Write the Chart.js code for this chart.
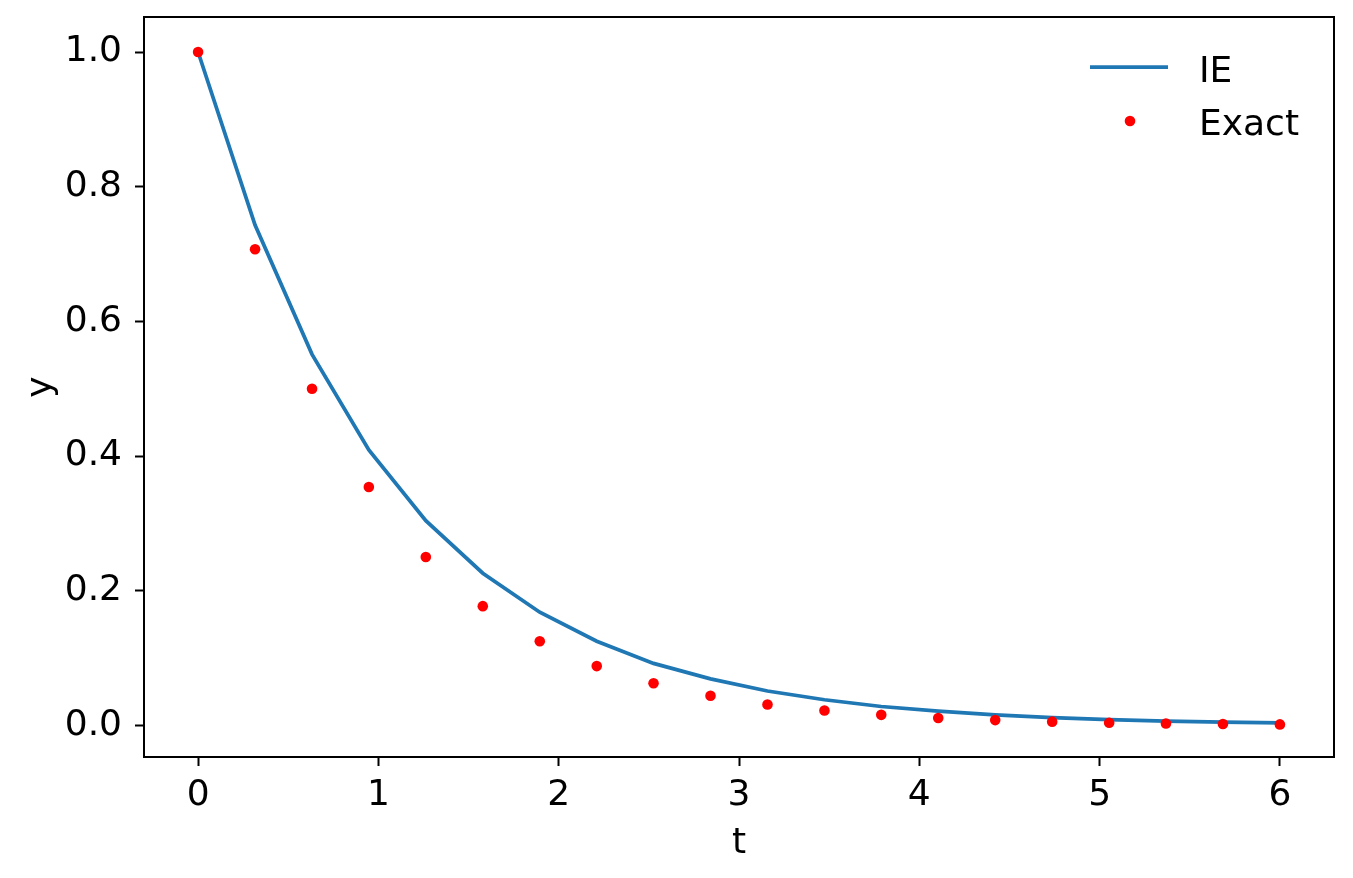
<!DOCTYPE html>
<html>
<head>
<meta charset="utf-8">
<script src="https://cdn.jsdelivr.net/npm/chart.js@4"></script>
<style>
  html, body { margin: 0; padding: 0; background: #fff; }
  canvas { display: block; }
</style>
</head>
<body>
<canvas id="ieChart" width="1353" height="878"></canvas>
<script>
// time points
const tValues = [0, 0.316, 0.632, 0.947, 1.263, 1.579, 1.895, 2.211, 2.526, 2.842,
  3.158, 3.474, 3.789, 4.105, 4.421, 4.737, 5.053, 5.368, 5.684, 6.0];
// implicit Euler solution
const ieValues = [1.0, 0.743, 0.551, 0.409, 0.304, 0.226, 0.168, 0.125, 0.092, 0.069,
  0.051, 0.038, 0.028, 0.021, 0.0155, 0.0115, 0.0086, 0.0064, 0.0047, 0.0035];
// exact solution
const exactValues = [1.0, 0.707, 0.5, 0.354, 0.25, 0.177, 0.125, 0.088, 0.0625, 0.044,
  0.031, 0.022, 0.0156, 0.011, 0.0078, 0.0055, 0.0039, 0.0028, 0.002, 0.0014];

const xTicks = [0, 1, 2, 3, 4, 5, 6];
const yTicks = [0.0, 0.2, 0.4, 0.6, 0.8, 1.0];
const seriesLabels = ["IE", "Exact"];

const color = {
  ie: "#1f77b4",
  exact: "#ff0000",
  axis: "#000000"
};
const fontFamily = "'DejaVu Sans', sans-serif";
const fontSize = 36;

function toPoints(xs, ys) {
  let list = [];
  for (let i = 0; i < xs.length; i++) {
    list.push({ x: xs[i], y: ys[i] });
  }
  return list;
}

// draws the top/right spines and the frameless legend
const framePlugin = {
  id: "frame",
  afterDraw(chart) {
    const ctx = chart.ctx;
    const a = chart.chartArea;
    ctx.save();
    ctx.strokeStyle = color.axis;
    ctx.lineWidth = 2;
    ctx.strokeRect(a.left, a.top, a.right - a.left, a.bottom - a.top);

    ctx.font = fontSize + "px " + fontFamily;
    ctx.fillStyle = "#000";
    ctx.textBaseline = "alphabetic";
    // IE entry
    ctx.strokeStyle = color.ie;
    ctx.lineWidth = 3.75;
    ctx.beginPath();
    ctx.moveTo(1090, 67);
    ctx.lineTo(1168, 67);
    ctx.stroke();
    ctx.fillText(seriesLabels[0], 1199, 82);
    // Exact entry
    ctx.fillStyle = color.exact;
    ctx.beginPath();
    ctx.arc(1130, 121, 5.3, 0, Math.PI * 2);
    ctx.fill();
    ctx.fillStyle = "#000";
    ctx.fillText(seriesLabels[1], 1199, 135);
    ctx.restore();
  }
};

const axisGrid = {
  drawOnChartArea: false,
  drawTicks: true,
  tickLength: 9,
  tickWidth: 2,
  tickColor: color.axis
};

new Chart(document.getElementById("ieChart").getContext("2d"), {
  type: "scatter",
  data: {
    datasets: [
      {
        label: seriesLabels[0],
        data: toPoints(tValues, ieValues),
        showLine: true,
        borderColor: color.ie,
        borderWidth: 3.75,
        pointRadius: 0,
        fill: false,
        order: 1
      },
      {
        label: seriesLabels[1],
        data: toPoints(tValues, exactValues),
        showLine: false,
        backgroundColor: color.exact,
        borderWidth: 0,
        pointRadius: 5.3,
        order: 0
      }
    ]
  },
  options: {
    responsive: false,
    animation: false,
    devicePixelRatio: 1,
    layout: { padding: { top: 17, right: 19, left: 0, bottom: 0 } },
    plugins: {
      legend: { display: false },
      tooltip: { enabled: false }
    },
    scales: {
      x: {
        type: "linear",
        min: -0.3,
        max: 6.3,
        grid: axisGrid,
        border: { display: true, color: color.axis, width: 2 },
        afterBuildTicks(scale) {
          scale.ticks = xTicks.map(v => ({ value: v }));
        },
        afterFit(scale) {
          scale.height = 121;
          scale.paddingLeft = 0;
          scale.paddingRight = 0;
        },
        ticks: {
          color: "#000",
          padding: 8,
          maxRotation: 0,
          font: { family: fontFamily, size: fontSize },
          callback: v => String(v)
        },
        title: {
          display: true,
          text: "t",
          color: "#000",
          padding: { top: 0, bottom: 13 },
          font: { family: fontFamily, size: fontSize }
        }
      },
      y: {
        type: "linear",
        min: -0.047,
        max: 1.052,
        grid: axisGrid,
        border: { display: true, color: color.axis, width: 2 },
        afterBuildTicks(scale) {
          scale.ticks = yTicks.map(v => ({ value: v }));
        },
        afterFit(scale) {
          scale.width = 144;
          scale.paddingTop = 0;
          scale.paddingBottom = 0;
        },
        ticks: {
          color: "#000",
          padding: 13,
          font: { family: fontFamily, size: fontSize },
          callback: v => v.toFixed(1)
        },
        title: {
          display: true,
          text: "y",
          color: "#000",
          padding: { top: 20, bottom: 0 },
          font: { family: fontFamily, size: fontSize }
        }
      }
    }
  },
  plugins: [framePlugin]
});
</script>
</body>
</html>
